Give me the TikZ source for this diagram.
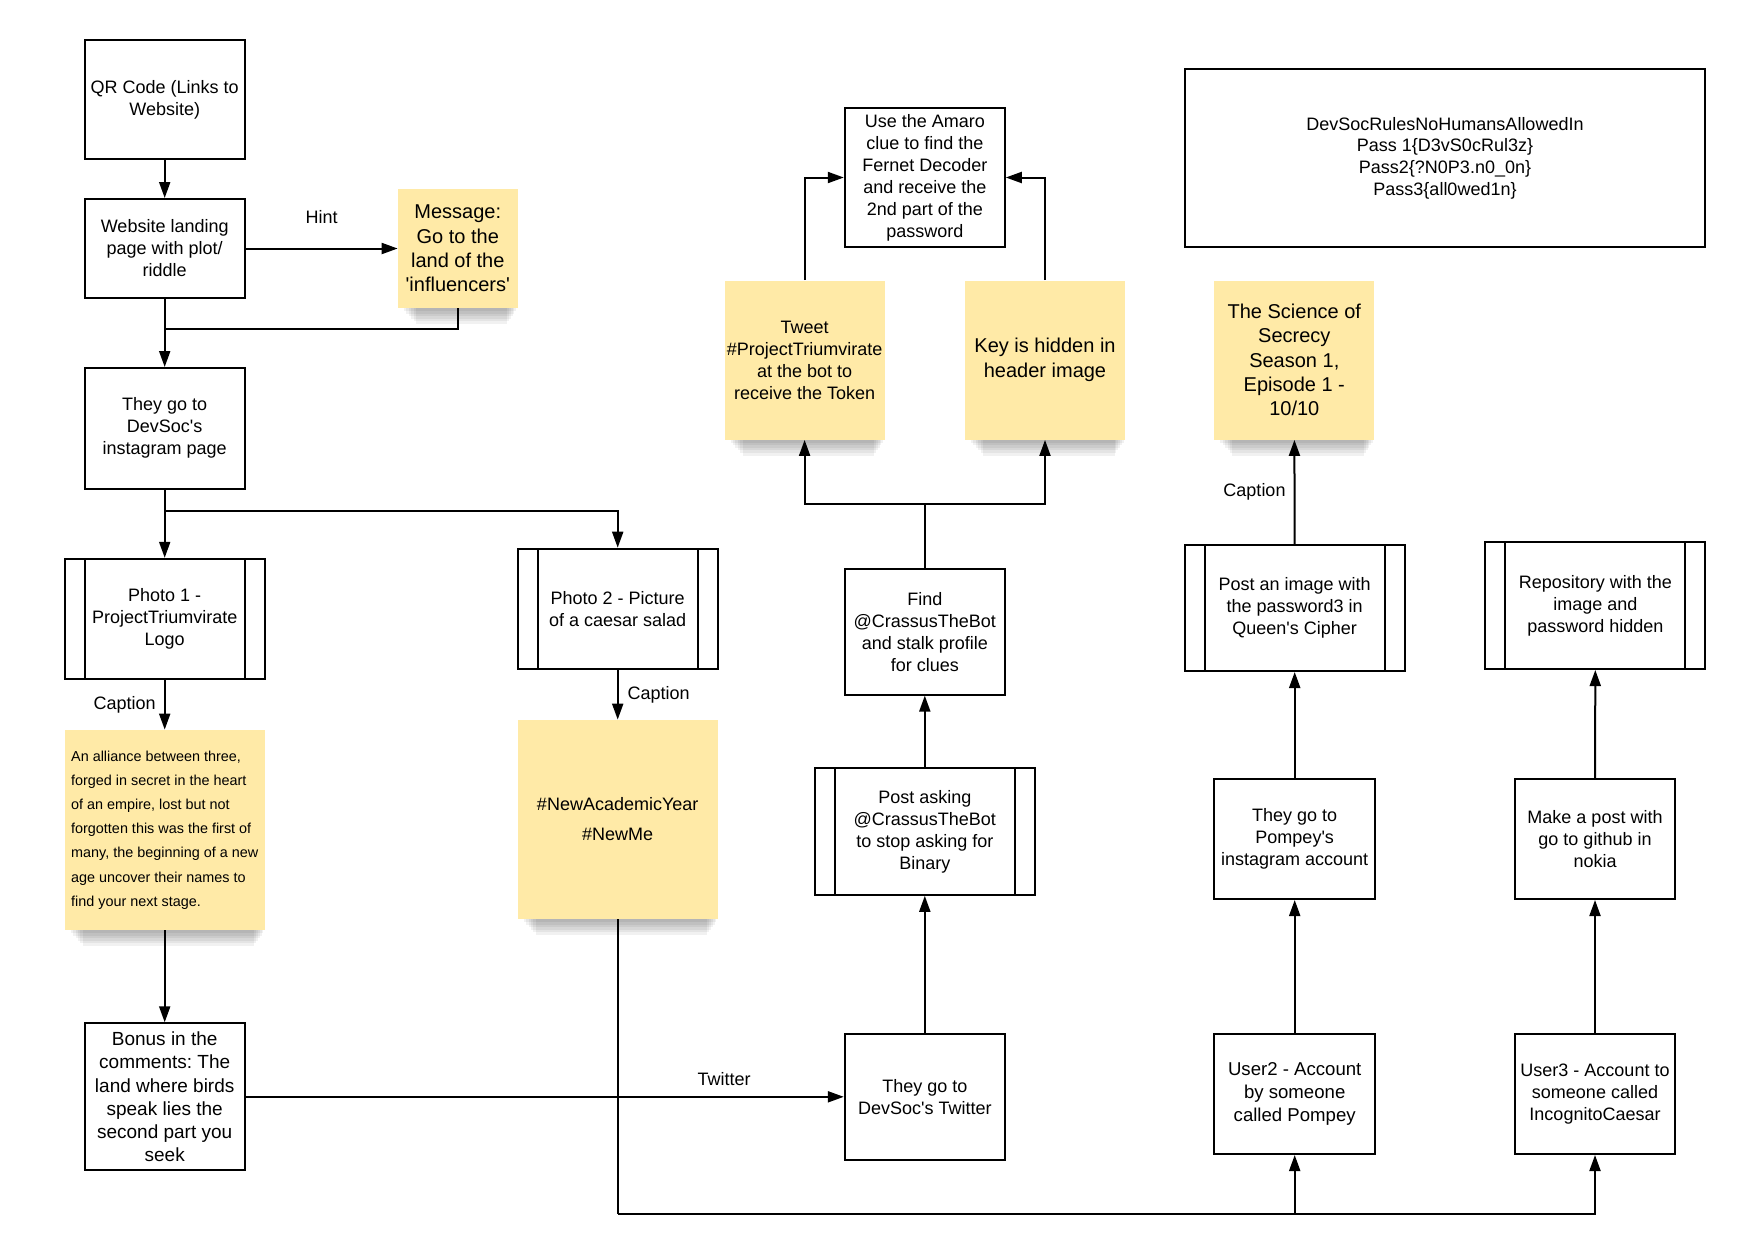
\documentclass[tikz,border=0pt]{standalone}
\usepackage{fontspec}
\setmainfont{Liberation Sans}
\usetikzlibrary{arrows.meta}
\definecolor{sticky}{RGB}{255,234,167}
\frenchspacing

\begin{document}
\begin{tikzpicture}[x=0.5pt, y=-0.5pt,
		box/.style={draw, line width=1pt, minimum width=80pt, align=center, inner sep=1pt, font=\fontsize{9}{11}\selectfont},
		subproc/.style={box, minimum width=110pt, path picture={
			\draw[line width=1pt] ([xshift=10pt]path picture bounding box.north west) -- ([xshift=10pt]path picture bounding box.south west)
				([xshift=-10pt]path picture bounding box.north east) -- ([xshift=-10pt]path picture bounding box.south east);}},
		note/.style={fill=sticky, minimum width=80pt, minimum height=79.5pt, align=center, inner sep=1pt, font=\fontsize{10}{12.2}\selectfont},
		lbl/.style={inner sep=1pt, font=\fontsize{9}{11}\selectfont},
		arr/.style={line width=1pt, -{Triangle[length=8pt, width=5.5pt]}},
		line/.style={line width=1pt}]

		% Page frame
		\useasboundingbox (0,0) rectangle (1745,1255);

		% Left column
		\node[box, minimum height=59.5pt] (qr) at (164.7,99.5) {QR Code (Links to\\Website)};
		\node[box, minimum height=49.5pt] (web) at (164.7,248.5) {Website landing\\page with plot/\\riddle};
		\node[note, minimum width=59.75pt, minimum height=59.5pt] (msg) at (457.8,248.5) {Message:\\Go to the\\land of the\\\textquotesingle influencers\textquotesingle};
		\node[box, minimum height=60.3pt] (insta) at (164.7,428.3) {They go to\\DevSoc\textquotesingle s\\instagram page};
		\node[subproc, minimum width=100pt, minimum height=60pt] (photo1) at (164.7,618.8) {Photo 1 -\\ProjectTriumvirate\\Logo};
		\node[note, minimum width=100pt, minimum height=100pt, align=left, font=\fontsize{7.2}{12.1}\selectfont] (alli) at (164.7,830) {An alliance between three,\\forged in secret in the heart\\of an empire, lost but not\\forgotten this was the first of\\many, the beginning of a new\\age uncover their names to\\find your next stage.};
		\node[box, minimum height=73.5pt, font=\fontsize{9.5}{11.6}\selectfont] (bonus) at (164.7,1096.8) {Bonus in the\\comments: The\\land where birds\\speak lies the\\second part you\\seek};

		% Photo 2
		\node[subproc, minimum width=100pt, minimum height=60pt] (photo2) at (617.7,608.7) {Photo 2 - Picture\\of a caesar salad};
		\node[note, minimum width=100pt, minimum height=99.5pt, font=\fontsize{9}{15}\selectfont] (tags) at (617.7,819.5) {\#NewAcademicYear\\\#NewMe};

		% Twitter column
		\node[box, minimum height=62.8pt] (twit) at (924.8,1096.8) {They go to\\DevSoc\textquotesingle s Twitter};
		\node[subproc, minimum height=63.4pt] (ask) at (924.8,831.4) {Post asking\\@CrassusTheBot\\to stop asking for\\Binary};
		\node[box, minimum height=63pt] (find) at (924.8,631.6) {Find\\@CrassusTheBot\\and stalk profile\\for clues};
		\node[note, font=\fontsize{9}{11}\selectfont] (tweet) at (804.6,360) {Tweet\\\#ProjectTriumvirate\\at the bot to\\receive the Token};
		\node[note] (key) at (1045,360) {Key is hidden in\\header image};
		\node[box, minimum height=69.5pt] (amaro) at (924.8,177.5) {Use the Amaro\\clue to find the\\Fernet Decoder\\and receive the\\2nd part of the\\password};

		% Passwords
		\node[box, minimum width=260pt, minimum height=89pt, font=\fontsize{9}{10.8}\selectfont] (pass) at (1445,158) {DevSocRulesNoHumansAllowedIn\\Pass 1\{D3vS0cRul3z\}\\Pass2\{?N0P3.n0\_0n\}\\Pass3\{all0wed1n\}};

		% Pompey column
		\node[note] (sci) at (1294.3,360) {The Science of\\Secrecy\\Season 1,\\Episode 1 -\\10/10};
		\node[subproc, minimum height=63pt] (img) at (1294.7,608) {Post an image with\\the password3 in\\Queen\textquotesingle s Cipher};
		\node[box, minimum width=80.5pt, minimum height=60pt] (pomp) at (1294.7,839) {They go to\\Pompey\textquotesingle s\\instagram account};
		\node[box, minimum width=80.5pt, minimum height=60pt, font=\fontsize{9.3}{11.4}\selectfont] (user2) at (1294.7,1094) {User2 - Account\\by someone\\called Pompey};

		% Caesar column
		\node[subproc, minimum height=63.5pt] (repo) at (1595.4,605.5) {Repository with the\\image and\\password hidden};
		\node[box, minimum height=60pt] (make) at (1595,839) {Make a post with\\go to github in\\nokia};
		\node[box, minimum height=60pt] (user3) at (1595,1094) {User3 - Account to\\someone called\\IncognitoCaesar};

		% Soft shadows under the notes
		\foreach \s in {msg,alli,tags,tweet,key,sci}
			\foreach \k in {1,...,6}
				\fill[black, opacity=0.055] ([xshift=2pt+\k*1.2pt]\s.south west) rectangle ([xshift=-\k*0.9pt,yshift=-\k*1.3pt]\s.south east);

		% Joints
		\coordinate (j1) at (164.7,329);
		\coordinate (j2) at (164.7,511);
		\coordinate (j3) at (617.7,1214);
		\coordinate (j4) at (924.8,504);

		% Connectors
		\draw[arr] (qr) -- (web);
		\draw[arr] (web) -- node[lbl, midway, above=11pt] (hint) {Hint} (msg);
		\draw[line] (msg) |- (j1);
		\draw[arr] (web) -- (insta);
		\draw[arr] (insta) -- (photo1);
		\draw[arr] (j2) -| (photo2);
		\draw[arr] (photo1) -- node[lbl, midway, left=3pt] (cap1) {Caption} (alli);
		\draw[arr] (alli) -- (bonus);
		\draw[arr] (photo2) -- node[lbl, midway, right=3.5pt] (cap2) {Caption} (tags);
		\draw[arr] (bonus) -- node[lbl, pos=0.8, above=4pt] (tw) {Twitter} (twit);
		\draw[line] (tags) -- (j3);
		\draw[arr] (j3) -| (user3);
		\draw[arr] (j3 -| user2) -- (user2);
		\draw[arr] (twit) -- (ask);
		\draw[arr] (ask) -- (find);
		\draw[line] (find) -- (j4);
		\draw[arr] (j4) -| (tweet);
		\draw[arr] (j4) -| (key);
		\draw[arr] (tweet) |- (amaro);
		\draw[arr] (key) |- (amaro);
		\draw[arr] (user2) -- (pomp);
		\draw[arr] (pomp) -- (img);
		\draw[arr] (img) -- node[lbl, midway, left=3pt] (cap3) {Caption} (sci);
		\draw[arr] (user3) -- (make);
		\draw[arr] (make) -- (repo);

	\end{tikzpicture}
\end{document}
